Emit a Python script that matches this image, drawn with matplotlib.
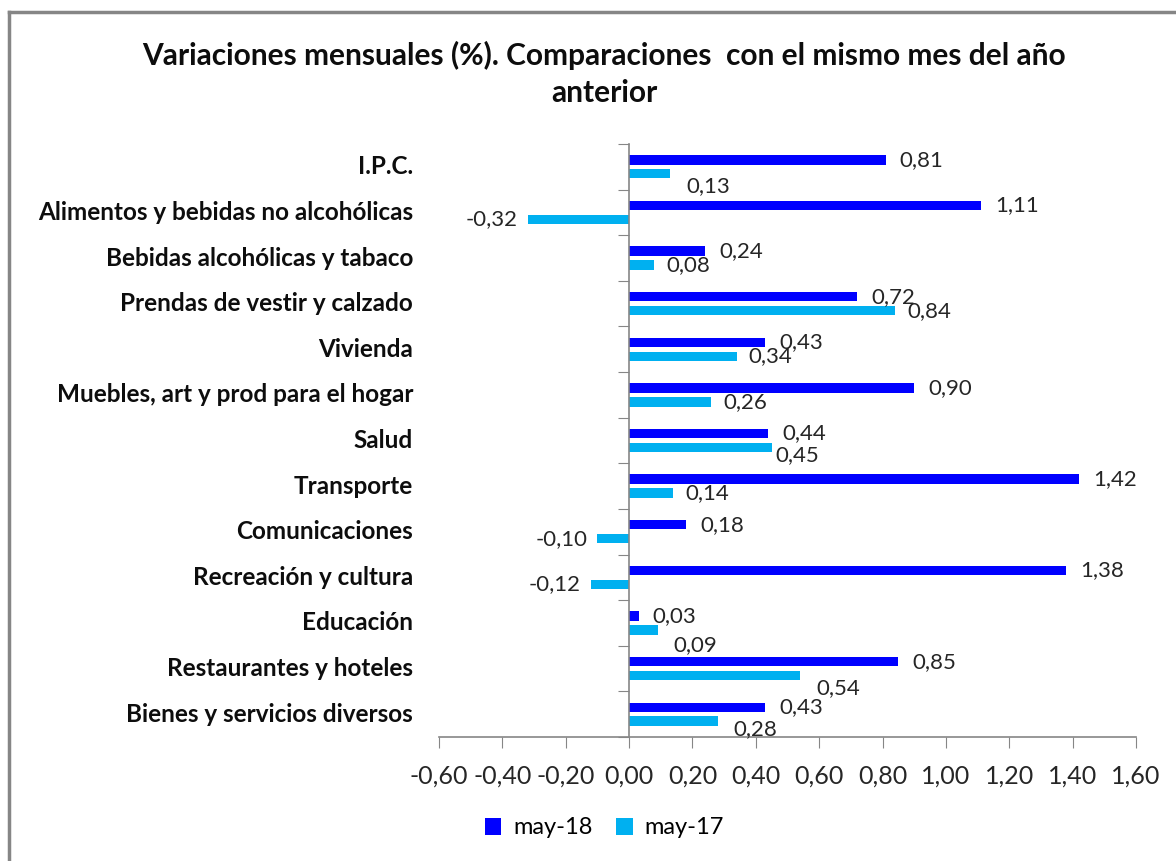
import matplotlib.pyplot as plt
from matplotlib.lines import Line2D
import numpy as np

categorias = ['I.P.C.', 'Alimentos y bebidas no alcohólicas', 'Bebidas alcohólicas y tabaco',
              'Prendas de vestir y calzado', 'Vivienda', 'Muebles, art y prod para el hogar',
              'Salud', 'Transporte', 'Comunicaciones', 'Recreación y cultura', 'Educación',
              'Restaurantes y hoteles', 'Bienes y servicios diversos']
may18 = [0.81, 1.11, 0.24, 0.72, 0.43, 0.90, 0.44, 1.42, 0.18, 1.38, 0.03, 0.85, 0.43]
may17 = [0.13, -0.32, 0.08, 0.84, 0.34, 0.26, 0.45, 0.14, -0.10, -0.12, 0.09, 0.54, 0.28]
ticks_x = [-0.6, -0.4, -0.2, 0.0, 0.2, 0.4, 0.6, 0.8, 1.0, 1.2, 1.4, 1.6]

# desplazamientos (px, positivo = hacia abajo) de algunas etiquetas de may-17
ajuste17 = {0: (4, 12), 6: (-8, 8), 10: (4, 15), 11: (4, 13), 12: (4, 8)}

plt.rcParams['font.family'] = ['Lato', 'DejaVu Sans']
azul = '#0000FF'
celeste = '#00B0F0'
gris = '#868686'

fig = plt.figure(figsize=(11.76, 8.61), dpi=100)
ax = fig.add_axes([439 / 1176, 1 - 737 / 861, (1136 - 439) / 1176, (737 - 144) / 861])

y = np.arange(len(categorias))
h = 0.205
ax.barh(y - 0.153, may18, height=h, color=azul, label='may-18')
ax.barh(y + 0.153, may17, height=h, color=celeste, label='may-17')

ax.set_xlim(-0.6, 1.6)
ax.set_ylim(len(categorias) - 0.5, -0.5)
ax.set_xticks(ticks_x)
ax.set_xticklabels([f'{t:.2f}'.replace('.', ',') for t in ticks_x], fontsize=18, color='#262626')
ax.set_yticks(np.arange(len(categorias) + 1) - 0.5)
ax.set_yticklabels([])
ax.tick_params(axis='x', direction='out', length=8, color=gris, pad=12)
ax.tick_params(axis='y', direction='out', length=8, color=gris)

ax.spines['left'].set_position(('data', 0))
for s in ['left', 'bottom']:
    ax.spines[s].set_color(gris)
    ax.spines[s].set_linewidth(1.2)
ax.spines['top'].set_visible(False)
ax.spines['right'].set_visible(False)

for i, c in enumerate(categorias):
    ax.text(-0.037, i, c, transform=ax.get_yaxis_transform(), ha='right', va='center',
            fontsize=17.5, fontweight='bold', color='#0d0d0d')

def etiqueta(v, yy, dx=0, dy=0):
    txt = f'{v:.2f}'.replace('.', ',')
    if v >= 0:
        ax.annotate(txt, (v, yy), xytext=(12 + dx, -dy), textcoords='offset pixels',
                    ha='left', va='center', fontsize=16, color='#262626')
    else:
        ax.annotate(txt, (v, yy), xytext=(-10 - dx, -dy), textcoords='offset pixels',
                    ha='right', va='center', fontsize=16, color='#262626')

for i in range(len(categorias)):
    etiqueta(may18[i], y[i] - 0.153, dx=2)
    dx, dy = ajuste17.get(i, (0, 0))
    etiqueta(may17[i], y[i] + 0.153, dx=dx, dy=dy)

fig.text(0.514, 1 - 74 / 861, 'Variaciones mensuales (%). Comparaciones  con el mismo mes del año\nanterior',
         ha='center', va='center', fontsize=21.5, fontweight='bold', linespacing=1.4, color='#0d0d0d')

fig.legend(loc='center', bbox_to_anchor=(0.514, 1 - 828 / 861), ncol=2, frameon=False,
           fontsize=17, handlelength=0.7, handleheight=0.7, columnspacing=1.0, handletextpad=0.5)

# marco del gráfico
fig.add_artist(Line2D([9 / 1176, 9 / 1176], [0, 1 - 12 / 861], transform=fig.transFigure,
                      color=gris, lw=2.5))
fig.add_artist(Line2D([9 / 1176, 1], [1 - 12 / 861, 1 - 12 / 861], transform=fig.transFigure,
                      color=gris, lw=2.5))

fig.savefig('out.png', dpi=100, facecolor='white')
